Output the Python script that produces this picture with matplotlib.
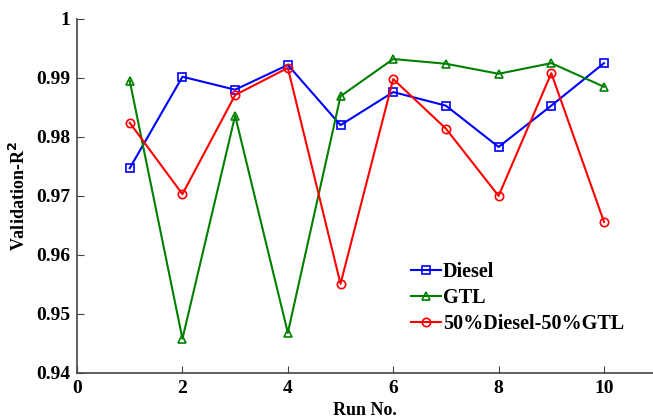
import matplotlib
matplotlib.use("Agg")
import matplotlib.pyplot as plt

runs = [1, 2, 3, 4, 5, 6, 7, 8, 9, 10]
diesel = [0.9747, 0.9902, 0.9880, 0.9922, 0.9820, 0.9876, 0.9853, 0.9783, 0.9853, 0.9925]
gtl = [0.9895, 0.9458, 0.9836, 0.9468, 0.9869, 0.9932, 0.9924, 0.9907, 0.9925, 0.9885]
blend = [0.9824, 0.9703, 0.9871, 0.9917, 0.9551, 0.9898, 0.9814, 0.9700, 0.9908, 0.9656]

plt.rcParams['font.family'] = ['Liberation Serif', 'DejaVu Serif']
plt.rcParams['font.weight'] = 'bold'

fig = plt.figure(figsize=(6.53, 4.2), dpi=100)
ax = fig.add_axes([0.118, 0.112, 0.882, 0.843])

ax.plot(runs, diesel, '-s', color='#0000ff', lw=1.5, ms=6, mfc='none', mew=1.2, label='Diesel')
ax.plot(runs, gtl, '-^', color='#008000', lw=1.5, ms=6, mfc='none', mew=1.2, label='GTL')
ax.plot(runs, blend, '-o', color='#ff0000', lw=1.5, ms=6, mfc='none', mew=1.2, label='50%Diesel-50%GTL')

ax.set_xlim(0, 10.93)
ax.set_ylim(0.94, 1.0)
ax.set_xticks([0, 2, 4, 6, 8, 10])
ax.set_yticks([0.94, 0.95, 0.96, 0.97, 0.98, 0.99, 1.0])
ax.set_yticklabels(['0.94', '0.95', '0.96', '0.97', '0.98', '0.99', '1'])

for s in ['top', 'right']:
    ax.spines[s].set_visible(False)
for s in ['left', 'bottom']:
    ax.spines[s].set_color('#444444')
    ax.spines[s].set_linewidth(1.2)
ax.tick_params(direction='in', length=5, color='#444444', labelsize=14, pad=5)

ax.set_xlabel('Run No.', fontsize=13, fontweight='bold', labelpad=4)
ax.set_ylabel('Validation-R$^2$', fontsize=13, fontweight='bold', labelpad=5)

leg = ax.legend(loc='lower left', bbox_to_anchor=(0.565, 0.088), frameon=False,
                fontsize=14.5, handlelength=1.5, handletextpad=0.1, labelspacing=0.3,
                borderaxespad=0)

fig.savefig('out.png', dpi=100)
